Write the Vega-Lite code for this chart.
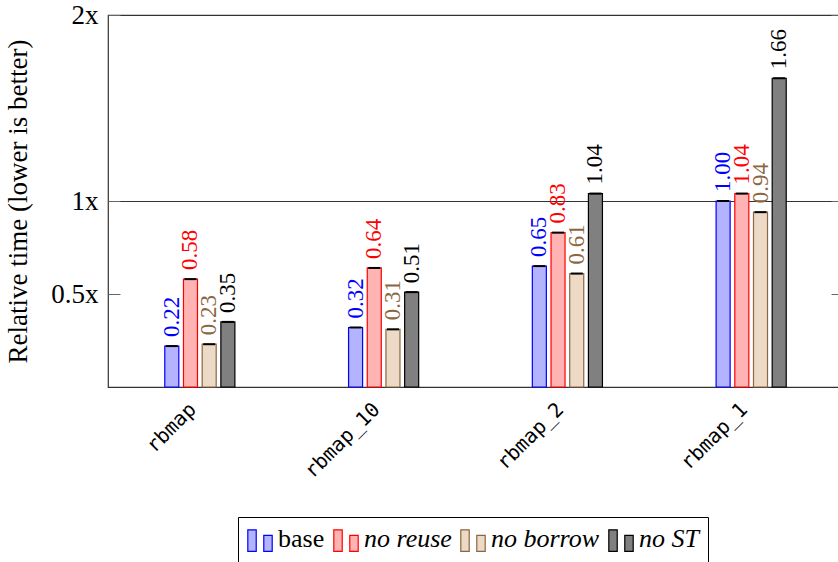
{
  "$schema": "https://vega.github.io/schema/vega-lite/v6.json",
  "autosize": {"type": "none"},
  "padding": {"left": 108, "top": 15, "right": -5, "bottom": 175},
  "width": 735,
  "height": 372,
  "background": "white",
  "config": {"view": {"stroke": "#333", "strokeWidth": 1.2}, "font": "Liberation Serif"},
  "data": {
    "values": [
      {"bench": "rbmap", "variant": "base", "value": 0.22},
      {"bench": "rbmap", "variant": "no reuse", "value": 0.58},
      {"bench": "rbmap", "variant": "no borrow", "value": 0.23},
      {"bench": "rbmap", "variant": "no ST", "value": 0.35},
      {"bench": "rbmap_10", "variant": "base", "value": 0.32},
      {"bench": "rbmap_10", "variant": "no reuse", "value": 0.64},
      {"bench": "rbmap_10", "variant": "no borrow", "value": 0.31},
      {"bench": "rbmap_10", "variant": "no ST", "value": 0.51},
      {"bench": "rbmap_2", "variant": "base", "value": 0.65},
      {"bench": "rbmap_2", "variant": "no reuse", "value": 0.83},
      {"bench": "rbmap_2", "variant": "no borrow", "value": 0.61},
      {"bench": "rbmap_2", "variant": "no ST", "value": 1.04},
      {"bench": "rbmap_1", "variant": "base", "value": 1.0},
      {"bench": "rbmap_1", "variant": "no reuse", "value": 1.04},
      {"bench": "rbmap_1", "variant": "no borrow", "value": 0.94},
      {"bench": "rbmap_1", "variant": "no ST", "value": 1.66}
    ]
  },
  "layer": [
    {
      "mark": {"type": "bar", "strokeWidth": 1.2, "opacity": 1},
      "encoding": {
        "x": {
          "field": "bench", "type": "nominal",
          "sort": ["rbmap", "rbmap_10", "rbmap_2", "rbmap_1"],
          "scale": {"paddingInner": 0.6185, "paddingOuter": 0.309},
          "axis": {"title": null, "labelAngle": -45, "labelFont": "DejaVu Sans Mono", "labelFontSize": 20, "labelColor": "black", "ticks": false, "domain": false, "labelPadding": 12, "labelOffset": -14}
        },
        "xOffset": {
          "field": "variant", "type": "nominal",
          "sort": ["base", "no reuse", "no borrow", "no ST"],
          "scale": {"paddingInner": 0.25, "paddingOuter": 0}
        },
        "y": {
          "field": "value", "type": "quantitative",
          "scale": {"domain": [0, 2], "nice": false},
          "axis": {
            "title": "Relative time (lower is better)",
            "values": [0.5, 1, 2],
            "labelExpr": "datum.value + 'x'",
            "labelFont": "Liberation Serif", "labelFontSize": 27, "labelColor": "black",
            "tickSize": -12, "tickColor": "#666", "labelPadding": 22,
            "domain": false, "grid": true, "gridColor": "#333", "gridWidth": 1.2,
            "gridOpacity": {"condition": {"test": "datum.value === 1", "value": 1}, "value": 0},
            "titleFont": "Liberation Serif", "titleFontSize": 27, "titleFontWeight": "normal", "titleColor": "black",
            "titleX": -82, "titleY": 186, "titleAngle": 270, "titleAlign": "center", "titleBaseline": "alphabetic"
          }
        },
        "fill": {
          "field": "variant", "type": "nominal",
          "scale": {"domain": ["base", "no reuse", "no borrow", "no ST"], "range": ["#b3b3ff", "#ffb3b3", "#ecdac6", "#808080"]},
          "legend": {
            "title": null, "orient": "none", "legendX": 130, "legendY": 502, "direction": "horizontal",
            "strokeColor": "black", "padding": 9, "fillColor": "white",
            "symbolType": "M-1,1L-1,-0.77L-0.31,-0.77L-0.31,1ZM0.31,1L0.31,-0.31L1,-0.31L1,1Z",
            "symbolSize": 595, "symbolStrokeWidth": 1.2, "symbolOpacity": 1,
            "labelFont": "Liberation Serif", "labelFontSize": 26, "labelColor": "black", "labelOffset": 5, "columnPadding": 6, "labelLimit": 0,
            "encode": {"labels": {"update": {"fontStyle": {"signal": "datum.label === 'base' ? 'normal' : 'italic'"}}}}
          }
        },
        "stroke": {
          "field": "variant", "type": "nominal",
          "scale": {"domain": ["base", "no reuse", "no borrow", "no ST"], "range": ["#0000ff", "#ff0000", "#8b6640", "#000000"]},
          "legend": {
            "title": null, "orient": "none", "legendX": 130, "legendY": 502, "direction": "horizontal",
            "strokeColor": "black", "padding": 9, "fillColor": "white",
            "symbolType": "M-1,1L-1,-0.77L-0.31,-0.77L-0.31,1ZM0.31,1L0.31,-0.31L1,-0.31L1,1Z",
            "symbolSize": 595, "symbolStrokeWidth": 1.2, "symbolOpacity": 1,
            "labelFont": "Liberation Serif", "labelFontSize": 26, "labelColor": "black", "labelOffset": 5, "columnPadding": 6, "labelLimit": 0,
            "encode": {"labels": {"update": {"fontStyle": {"signal": "datum.label === 'base' ? 'normal' : 'italic'"}}}}
          }
        }
      }
    },
    {
      "mark": {"type": "tick", "color": "black", "thickness": 2, "size": 12, "orient": "horizontal", "opacity": 1},
      "encoding": {
        "x": {"field": "bench", "type": "nominal", "sort": ["rbmap", "rbmap_10", "rbmap_2", "rbmap_1"]},
        "xOffset": {"field": "variant", "type": "nominal", "sort": ["base", "no reuse", "no borrow", "no ST"]},
        "y": {
          "field": "value", "type": "quantitative",
          "axis": {"orient": "right", "title": null, "labels": false, "values": [0.5, 1, 2], "tickSize": -12, "tickColor": "#666", "domain": false, "grid": false}
        }
      }
    },
    {
      "mark": {"type": "text", "angle": 270, "align": "left", "baseline": "middle", "dx": 9, "font": "Liberation Serif", "fontSize": 23},
      "encoding": {
        "x": {"field": "bench", "type": "nominal", "sort": ["rbmap", "rbmap_10", "rbmap_2", "rbmap_1"]},
        "xOffset": {"field": "variant", "type": "nominal", "sort": ["base", "no reuse", "no borrow", "no ST"]},
        "y": {"field": "value", "type": "quantitative", "axis": null},
        "text": {"field": "value", "type": "quantitative", "format": ".2f"},
        "fill": {
          "condition": [
            {"test": "datum.variant === 'base'", "value": "#0000ff"},
            {"test": "datum.variant === 'no reuse'", "value": "#ff0000"},
            {"test": "datum.variant === 'no borrow'", "value": "#8b6640"}
          ],
          "value": "#000000"
        }
      }
    }
  ],
  "resolve": {"axis": {"y": "independent"}}
}
